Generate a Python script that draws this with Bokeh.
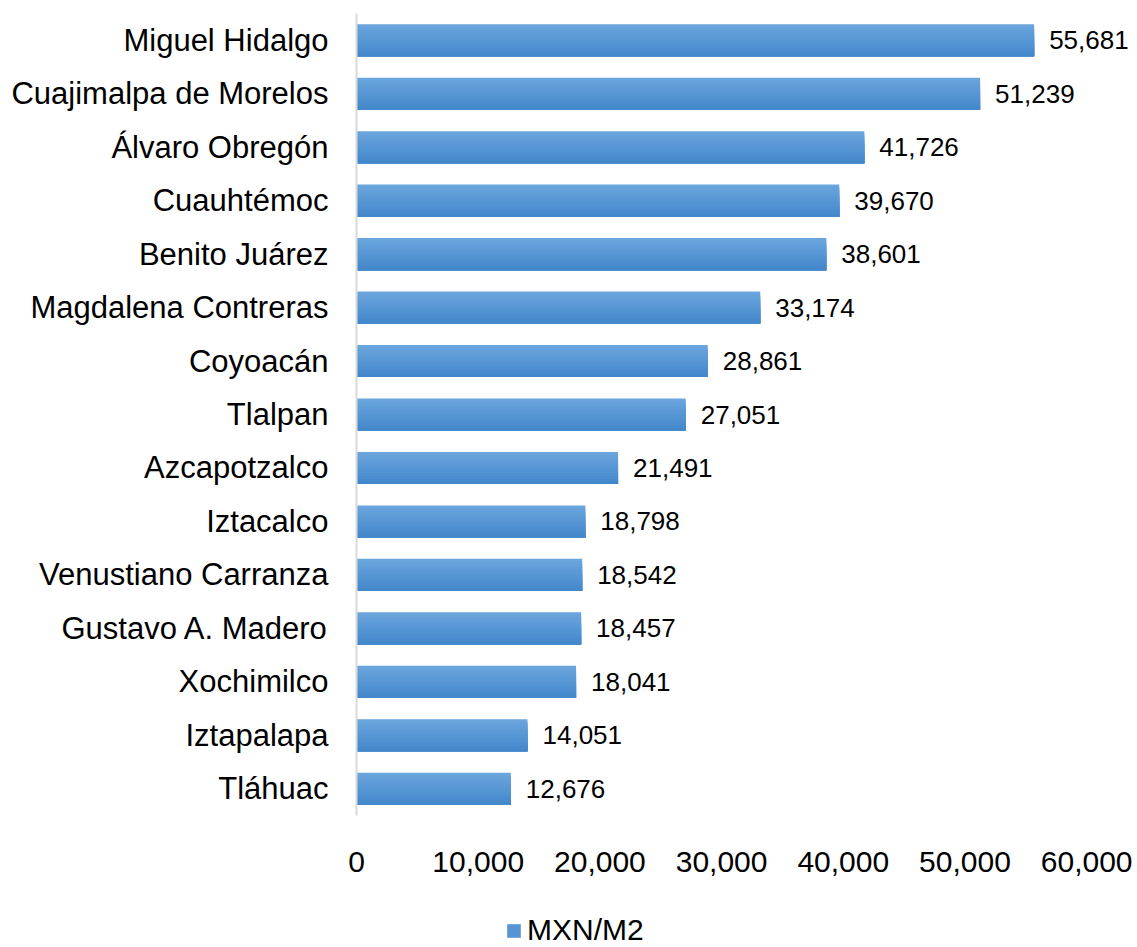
from bokeh.plotting import figure
from bokeh.models import ColumnDataSource, FactorRange, Legend, LegendItem, NumeralTickFormatter, FixedTicker
from bokeh.layouts import column
from bokeh.transform import dodge
from bokeh.core.properties import value
from bokeh.embed import file_html
from bokeh.resources import INLINE

categories = ["Miguel Hidalgo", "Cuajimalpa de Morelos", "Álvaro Obregón", "Cuauhtémoc",
              "Benito Juárez", "Magdalena Contreras", "Coyoacán", "Tlalpan", "Azcapotzalco",
              "Iztacalco", "Venustiano Carranza", "Gustavo A. Madero", "Xochimilco",
              "Iztapalapa", "Tláhuac"]
values = [55681, 51239, 41726, 39670, 38601, 33174, 28861, 27051, 21491,
          18798, 18542, 18457, 18041, 14051, 12676]
x_ticks = [0, 10000, 20000, 30000, 40000, 50000, 60000]
series_name = "MXN/M2"

labels = [f"{v:,}" for v in values]
src = ColumnDataSource(dict(cat=categories, val=values, lab=labels))

FONT = "Liberation Sans"

p = figure(frame_width=774, frame_height=802, output_backend="svg", toolbar_location=None,
           y_range=FactorRange(*reversed(categories)), x_range=(0, 63600),
           min_border_left=356, min_border_right=7, min_border_top=13, min_border_bottom=70)
p.outline_line_color = None
p.xgrid.grid_line_color = None
p.ygrid.grid_line_color = None

# bar with a vertical gradient (top light -> bottom dark), nested bottom-aligned layers
top = (108, 166, 222)
bot = (66, 135, 203)
n = 12
bar_h = 0.6
strip = bar_h / n
mid_color = None
for i in range(n):
    t = (i + 0.5) / n
    c = tuple(int(round(top[k] + (bot[k] - top[k]) * t)) for k in range(3))
    color = "#%02x%02x%02x" % c
    h = bar_h - i * strip
    off = (bar_h / 2 - i * strip + (-bar_h / 2)) / 2
    p.hbar(y=dodge("cat", off, range=p.y_range), right="val", left=0,
           height=h, source=src, fill_color=color, line_color=None)
    if i == n // 2:
        mid_color = color

p.text(x="val", y="cat", text="lab", source=src, x_offset=15,
       text_font=value(FONT), text_font_size="26px", text_align="left",
       text_baseline="middle", text_color="#000000")

# y axis
p.yaxis.axis_line_color = "#d9d9d9"
p.yaxis.axis_line_width = 2
p.yaxis.major_tick_line_color = None
p.yaxis.minor_tick_line_color = None
p.yaxis.major_label_text_font = FONT
p.yaxis.major_label_text_font_size = "31px"
p.yaxis.major_label_text_color = "#000000"
p.yaxis.major_label_standoff = 22

# x axis
p.xaxis.axis_line_color = None
p.xaxis.major_tick_line_color = None
p.xaxis.minor_tick_line_color = None
p.xaxis.ticker = FixedTicker(ticks=x_ticks)
p.xaxis.formatter = NumeralTickFormatter(format="0,0")
p.xaxis.major_label_text_font = FONT
p.xaxis.major_label_text_font_size = "30px"
p.xaxis.major_label_text_color = "#000000"
p.xaxis.major_label_standoff = 30

# legend strip below the chart (zero-width proxy bar only feeds the legend swatch)
lg = figure(width=1137, height=62, output_backend="svg", toolbar_location=None,
            x_range=(0, 1), y_range=(0, 1), min_border=0)
lg.axis.visible = False
lg.grid.grid_line_color = None
lg.outline_line_color = None
proxy_src = ColumnDataSource(dict(name=[series_name], y=[0.5], v=[0]))
proxy = lg.hbar(y="y", right="v", left="v", height=0.5, source=proxy_src,
                fill_color=mid_color, line_color=None)
legend = Legend(items=[LegendItem(label=series_name, renderers=[proxy])],
                orientation="horizontal", location=(149, 0),
                label_text_font=FONT, label_text_font_size="30px",
                label_text_color="#000000", glyph_width=17, glyph_height=17,
                label_standoff=5, border_line_color=None, background_fill_alpha=0,
                margin=0, padding=0)
lg.add_layout(legend)

layout = column(p, lg, spacing=0)
open("out.html", "w").write(file_html(layout, INLINE))
